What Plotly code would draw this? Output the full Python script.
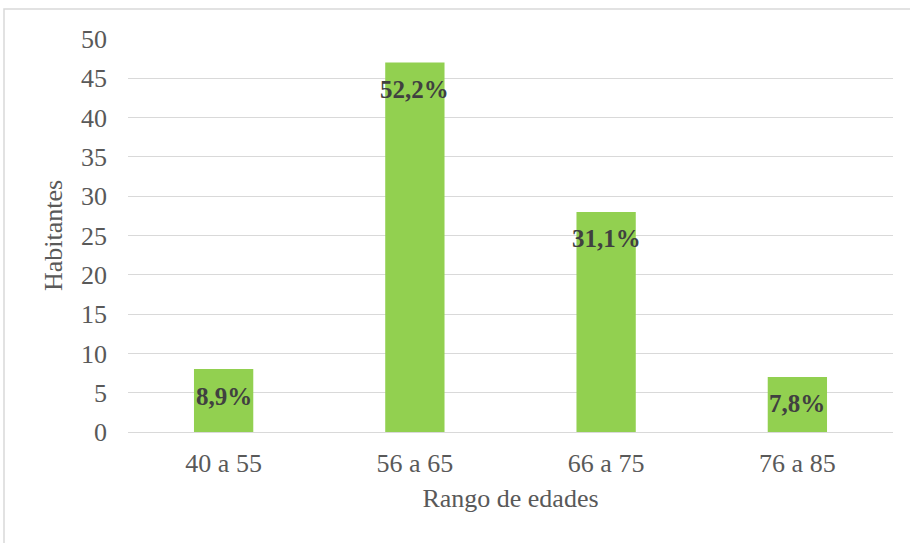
import plotly.graph_objects as go

categorias = ["40 a 55", "56 a 65", "66 a 75", "76 a 85"]
habitantes = [8, 47, 28, 7]
porcentajes = ["8,9%", "52,2%", "31,1%", "7,8%"]
y_ticks = [0, 5, 10, 15, 20, 25, 30, 35, 40, 45, 50]

FONT = "Liberation Serif"
GRAY = "#595959"

fig = go.Figure()
fig.add_trace(go.Bar(
    x=categorias, y=habitantes,
    marker=dict(color="#92D050", line=dict(width=0)),
    hoverinfo="skip",
))

for c, v, p in zip(categorias, habitantes, porcentajes):
    fig.add_annotation(
        x=c, y=v, text="<b>%s</b>" % p, showarrow=False,
        yanchor="middle", yshift=-27,
        font=dict(family=FONT, size=25, color="#404040"),
    )

# outer chart frame
fig.add_shape(type="rect", xref="paper", yref="paper",
              x0=-0.1621, x1=1.03, y0=-0.30, y1=1.0763,
              line=dict(color="#D9D9D9", width=1.5), layer="below")

fig.update_layout(
    width=910, height=543,
    margin=dict(l=128, r=17, t=39, b=111),
    paper_bgcolor="white", plot_bgcolor="white",
    bargap=0.69,
    showlegend=False,
    font=dict(family=FONT, size=26, color=GRAY),
    xaxis=dict(
        showgrid=False, showline=True, linecolor="#D9D9D9", linewidth=1,
        ticks="", ticklabelstandoff=8,
        tickfont=dict(family=FONT, size=26, color=GRAY),
        title=dict(text="Rango de edades", standoff=11,
                   font=dict(family=FONT, size=26, color=GRAY)),
    ),
    yaxis=dict(
        range=[0, 50], tickvals=y_ticks,
        showgrid=True, gridcolor="#D9D9D9", gridwidth=1,
        zeroline=False, showline=False, ticks="",
        ticklabelstandoff=20,
        tickfont=dict(family=FONT, size=26, color=GRAY),
        title=dict(text="Habitantes", standoff=10,
                   font=dict(family=FONT, size=26, color=GRAY)),
    ),
)

fig.write_html("out.html")
